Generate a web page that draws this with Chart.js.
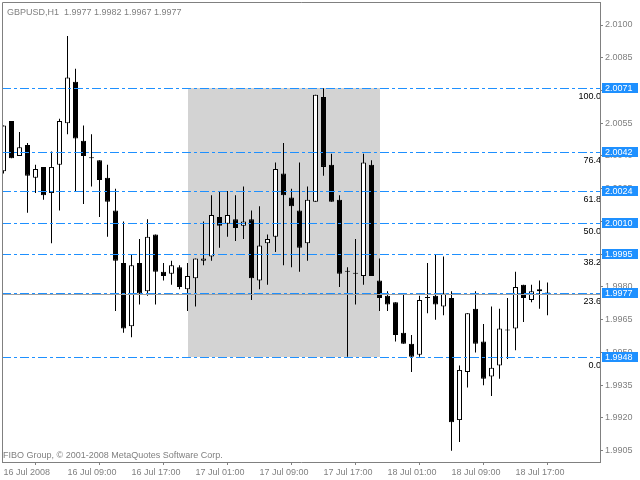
<!DOCTYPE html>
<html>
<head>
<meta charset="utf-8">
<script src="https://cdn.jsdelivr.net/npm/chart.js@4.4.0/dist/chart.umd.min.js"></script>
<style>
html, body { margin: 0; padding: 0; background: #fff; }
#c { display: block; }
</style>
</head>
<body>
<canvas id="c" width="640" height="480"></canvas>
<script>
// GBPUSD H1 bars, 16 Jul 2008 onwards
var openP = [2.0033, 2.0056, 2.0040, 2.0045, 2.0030, 2.0035, 2.0023, 2.0036, 2.0055, 2.0074,
  2.0047, 2.0039, 2.0038, 2.0030, 2.0015, 1.9991, 1.9962, 1.9991, 1.9978, 2.0004,
  1.9987, 1.9986, 1.9989, 1.9979, 1.9984, 1.9992, 1.9994, 2.0012, 2.0009, 2.0011,
  2.0008, 2.0011, 1.9983, 2.0000, 2.0003, 2.0032, 2.0021, 2.0015, 2.0000, 2.0019,
  2.0067, 2.0036, 2.0020, 1.9987, 1.9986, 1.9985, 2.0036, 1.9983, 1.9976, 1.9973,
  1.9959, 1.9954, 1.9949, 1.9975, 1.9976, 1.9971, 1.9975, 1.9919, 1.9941, 1.9970,
  1.9955, 1.9939, 1.9944, 1.9960, 1.9961, 1.9981, 1.9974, 1.9979, 1.9977];
var highP = [2.0054, 2.0056, 2.0051, 2.0046, 2.0036, 2.0035, 2.0042, 2.0057, 2.0095, 2.0080,
  2.0054, 2.0050, 2.0038, 2.0036, 2.0025, 2.0010, 1.9995, 2.0002, 2.0011, 2.0004,
  1.9991, 1.9992, 1.9990, 1.9991, 1.9993, 2.0010, 2.0022, 2.0024, 2.0024, 2.0022,
  2.0026, 2.0015, 2.0017, 2.0004, 2.0037, 2.0046, 2.0025, 2.0037, 2.0026, 2.0068,
  2.0071, 2.0041, 2.0022, 1.9989, 2.0002, 2.0041, 2.0038, 1.9993, 1.9978, 1.9973,
  1.9977, 1.9958, 1.9976, 1.9991, 1.9995, 1.9994, 1.9978, 1.9944, 1.9968, 1.9978,
  1.9963, 1.9971, 1.9970, 1.9975, 1.9987, 1.9981, 1.9981, 1.9983, 1.9982];
var lowP = [2.0032, 2.0039, 2.0040, 2.0014, 2.0023, 2.0020, 2.0000, 2.0015, 2.0050, 2.0024,
  2.0018, 2.0026, 2.0012, 2.0003, 1.9969, 1.9959, 1.9957, 1.9972, 1.9976, 1.9972,
  1.9983, 1.9981, 1.9979, 1.9969, 1.9971, 1.9990, 1.9992, 1.9998, 2.0003, 2.0001,
  2.0002, 1.9974, 1.9979, 1.9981, 1.9996, 1.9990, 1.9989, 1.9987, 1.9992, 2.0019,
  2.0031, 2.0019, 1.9980, 1.9948, 1.9972, 1.9981, 1.9985, 1.9969, 1.9969, 1.9955,
  1.9954, 1.9941, 1.9948, 1.9968, 1.9965, 1.9967, 1.9905, 1.9909, 1.9934, 1.9950,
  1.9935, 1.9930, 1.9938, 1.9947, 1.9951, 1.9964, 1.9973, 1.9970, 1.9967];
var closeP = [2.0054, 2.0039, 2.0044, 2.0031, 2.0034, 2.0022, 2.0035, 2.0056, 2.0076, 2.0048,
  2.0040, 2.0039, 2.0029, 2.0019, 1.9992, 1.9961, 1.9990, 1.9977, 2.0003, 1.9987,
  1.9985, 1.9990, 1.9980, 1.9985, 1.9993, 1.9993, 2.0013, 2.0008, 2.0013, 2.0007,
  2.0010, 1.9984, 1.9999, 2.0002, 2.0034, 2.0022, 2.0017, 1.9998, 2.0020, 2.0068,
  2.0035, 2.0019, 1.9986, 1.9987, 1.9986, 2.0037, 1.9985, 1.9975, 1.9972, 1.9958,
  1.9954, 1.9948, 1.9974, 1.9975, 1.9972, 1.9977, 1.9918, 1.9942, 1.9968, 1.9954,
  1.9938, 1.9943, 1.9961, 1.9960, 1.9980, 1.9975, 1.9978, 1.9978, 1.9977];

var xTickPos = [0, 8, 16, 24, 32, 40, 48, 56, 64];
var xTickText = ['16 Jul 2008', '16 Jul 09:00', '16 Jul 17:00', '17 Jul 01:00', '17 Jul 09:00',
  '17 Jul 17:00', '18 Jul 01:00', '18 Jul 09:00', '18 Jul 17:00'];
var yTicks = [1.9905, 1.9920, 1.9935, 1.9950, 1.9965, 1.9980, 1.9995, 2.0010,
  2.0025, 2.0040, 2.0055, 2.0070, 2.0085, 2.0100];

// fibo retracement
var fibHigh = 2.0071;
var fibLow = 1.9948;
var fibStart = 23;
var fibEnd = 47;
var fibLevels = [0, 23.6, 38.2, 50, 61.8, 76.4, 100];
var bidPrice = 1.9977;

var titleText = 'GBPUSD,H1  1.9977 1.9982 1.9967 1.9977';
var footText = 'FIBO Group, \u00a9 2001-2008 MetaQuotes Software Corp.';

var FONT = '9px "Liberation Sans", Arial, sans-serif';
var BLUE = '#1e90ff';
var GREY = '#808080';

var bodies = [], wicks = [], bodyColors = [];
for (var i = 0; i < openP.length; i++) {
  bodies.push({x: i, y: [openP[i], closeP[i]]});
  wicks.push({x: i, y: [lowP[i], highP[i]]});
  bodyColors.push(closeP[i] > openP[i] ? '#ffffff' : '#000000');
}

function fibPrice(lv) {
  return fibLow + (fibHigh - fibLow) * lv / 100;
}

var decor = {
  id: 'decor',
  beforeDatasetsDraw: function(chart) {
    var ctx = chart.ctx, xs = chart.scales.x, ys = chart.scales.y;
    var x0 = Math.round(xs.getPixelForValue(fibStart));
    var x1 = Math.round(xs.getPixelForValue(fibEnd));
    var y0 = Math.round(ys.getPixelForValue(fibHigh));
    var y1 = Math.round(ys.getPixelForValue(fibLow));
    ctx.save();
    ctx.fillStyle = '#d3d3d3';
    ctx.fillRect(x0, y0, x1 - x0, y1 - y0);
    ctx.restore();
  },
  afterDatasetsDraw: function(chart) {
    var ctx = chart.ctx, ys = chart.scales.y, a = chart.chartArea;
    ctx.save();
    ctx.beginPath();
    ctx.rect(a.left, a.top, a.right - a.left, a.bottom - a.top);
    ctx.clip();
    ctx.lineWidth = 1;

    // bid line
    var yb = Math.round(ys.getPixelForValue(bidPrice)) + 0.5;
    ctx.strokeStyle = '#a0a0a0';
    ctx.beginPath();
    ctx.moveTo(a.left, yb);
    ctx.lineTo(a.right, yb);
    ctx.stroke();

    // fibo levels
    ctx.strokeStyle = BLUE;
    ctx.setLineDash([9, 3, 3, 3]);
    fibLevels.forEach(function(lv) {
      var y = Math.round(ys.getPixelForValue(fibPrice(lv))) + 0.5;
      ctx.beginPath();
      ctx.moveTo(a.left, y);
      ctx.lineTo(a.right, y);
      ctx.stroke();
    });
    ctx.setLineDash([]);

    ctx.font = FONT;
    ctx.fillStyle = '#000';
    ctx.textAlign = 'right';
    ctx.textBaseline = 'alphabetic';
    fibLevels.forEach(function(lv) {
      var y = Math.round(ys.getPixelForValue(fibPrice(lv)));
      ctx.fillText(lv.toFixed(1), a.right + 1, y + 11);
    });
    ctx.restore();

    // left and top frame
    ctx.save();
    ctx.strokeStyle = GREY;
    ctx.lineWidth = 1;
    ctx.beginPath();
    ctx.moveTo(a.left + 0.5, a.bottom);
    ctx.lineTo(a.left + 0.5, a.top + 0.5);
    ctx.lineTo(a.right, a.top + 0.5);
    ctx.stroke();

    ctx.font = FONT;
    ctx.fillStyle = GREY;
    ctx.textAlign = 'left';
    ctx.textBaseline = 'alphabetic';
    ctx.fillText(titleText, 7, 15);
    ctx.fillText(footText, 3, 458);
    ctx.restore();
  },
  afterDraw: function(chart) {
    var ctx = chart.ctx, ys = chart.scales.y, a = chart.chartArea;
    ctx.save();
    ctx.font = FONT;
    ctx.textAlign = 'left';
    ctx.textBaseline = 'middle';
    fibLevels.forEach(function(lv) {
      var p = fibPrice(lv);
      var y = Math.round(ys.getPixelForValue(p));
      ctx.fillStyle = BLUE;
      ctx.fillRect(a.right + 2, y - 5, 36, 10);
      ctx.fillStyle = '#fff';
      ctx.fillText((p + 1e-9).toFixed(4), a.right + 5, y + 0.5);
    });
    ctx.restore();
  }
};

var ctx = document.getElementById('c');
var chart = new Chart(ctx, {
  type: 'bar',
  data: {
    datasets: [
      {
        label: 'body',
        data: bodies,
        backgroundColor: bodyColors,
        borderColor: '#000',
        borderWidth: 1,
        borderSkipped: false,
        barThickness: 5,
        minBarLength: 1,
        inflateAmount: 0,
        grouped: false,
        order: 0
      },
      {
        label: 'wick',
        data: wicks,
        backgroundColor: '#000',
        borderWidth: 0,
        barThickness: 1,
        inflateAmount: 0,
        grouped: false,
        order: 1
      }
    ]
  },
  options: {
    responsive: false,
    animation: false,
    layout: {padding: {left: 2, top: 2, right: 0, bottom: 0}},
    plugins: {legend: {display: false}, tooltip: {enabled: false}},
    scales: {
      x: {
        type: 'linear',
        min: -0.1875,
        max: 74.5625,
        offset: false,
        position: 'bottom',
        afterBuildTicks: function(s) {
          s.ticks = xTickPos.map(function(v) { return {value: v}; });
        },
        afterFit: function(s) {
          s.height = 18;
          s.paddingLeft = 0;
          s.paddingRight = 0;
        },
        grid: {drawOnChartArea: false, tickLength: 3, color: GREY},
        border: {color: GREY},
        ticks: {
          align: 'start',
          autoSkip: false,
          maxRotation: 0,
          padding: 2,
          color: GREY,
          font: {family: '"Liberation Sans", Arial, sans-serif', size: 9},
          callback: function(v) { return xTickText[xTickPos.indexOf(v)]; }
        }
      },
      y: {
        type: 'linear',
        position: 'right',
        min: 1.9899817,
        max: 2.0110536,
        afterBuildTicks: function(s) {
          s.ticks = yTicks.map(function(v) { return {value: v}; });
        },
        afterFit: function(s) {
          s.width = 40;
          s.paddingTop = 0;
          s.paddingBottom = 0;
        },
        grid: {drawOnChartArea: false, tickLength: 3, color: GREY},
        border: {color: GREY},
        ticks: {
          padding: 2,
          color: GREY,
          font: {family: '"Liberation Sans", Arial, sans-serif', size: 9},
          callback: function(v) { return v.toFixed(4); }
        }
      }
    }
  },
  plugins: [decor]
});
</script>
</body>
</html>
